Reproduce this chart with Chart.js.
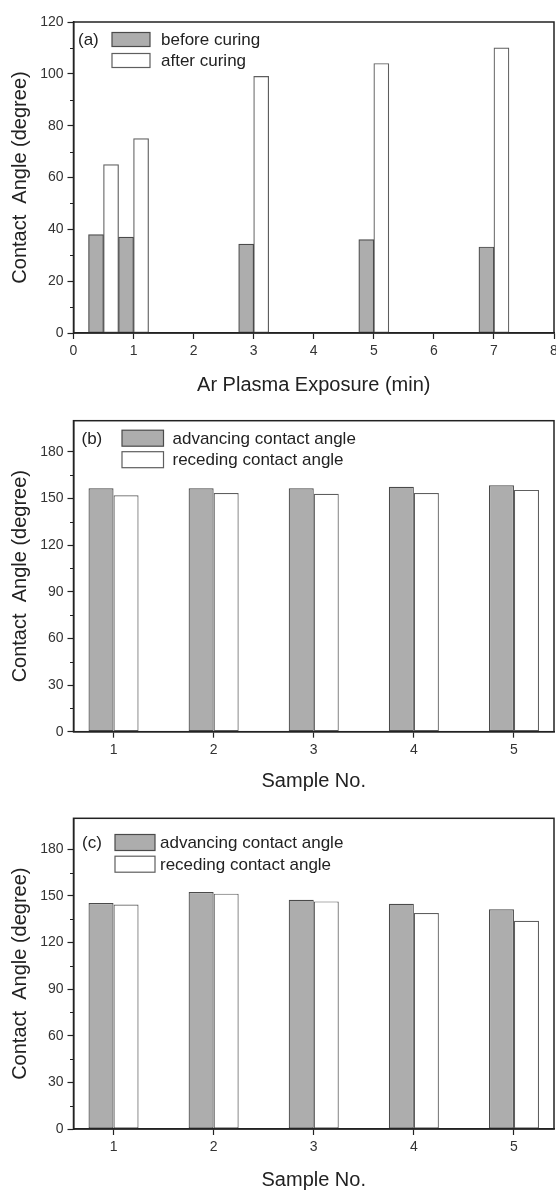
<!DOCTYPE html>
<html>
<head>
<meta charset="utf-8">
<script src="https://cdn.jsdelivr.net/npm/chart.js@4/dist/chart.umd.min.js"></script>
<style>
  html, body { margin: 0; padding: 0; background: #fff; overflow: hidden; }
  canvas { position: absolute; left: 0; }
  #chartA { top: 0; }
  #chartB { top: 400px; }
  #chartC { top: 792px; }
</style>
</head>
<body>
<canvas id="chartA" width="556" height="400"></canvas>
<canvas id="chartB" width="556" height="400"></canvas>
<canvas id="chartC" width="556" height="400"></canvas>
<script>
// panel (a)
const exposureMin = [0.5, 1, 3, 5, 7];
const beforeCuring = [38, 37, 34.3, 36, 33.2];
const afterCuring = [65, 75, 99, 104, 110];
const seriesA = ['before curing', 'after curing'];
const xTicksA = [0, 1, 2, 3, 4, 5, 6, 7, 8];
const yTicksA = [0, 20, 40, 60, 80, 100, 120];

// panels (b) and (c)
const sampleNo = [1, 2, 3, 4, 5];
const advancingB = [156.5, 156.5, 156.5, 157.5, 158.5];
const recedingB = [152, 153.5, 153, 153.5, 155.5];
const advancingC = [145.5, 152.5, 147.5, 145, 141.5];
const recedingC = [144.5, 151.5, 146.5, 139, 134];
const seriesBC = ['advancing contact angle', 'receding contact angle'];
const yTicksBC = [0, 30, 60, 90, 120, 150, 180];

const FONT = "'Liberation Sans', Arial, sans-serif";
const INK = '#222';
const GRAY = '#adadad';

Chart.defaults.font.family = FONT;
Chart.defaults.color = INK;

function pairs(xs, ys) {
    return xs.map((x, i) => ({ x: x, y: ys[i] }));
}

// box round the plot, short minor ticks, and the legend inside the plot
const panelDecor = {
    id: 'panelDecor',
    afterDraw(chart, args, opts) {
        const { ctx, chartArea: a } = chart;
        const y = chart.scales.y;
        ctx.save();

        ctx.strokeStyle = INK;
        ctx.lineWidth = 1;
        y.ticks.forEach(t => {
            if (opts.major.includes(t.value) || t.value > y.max - 0.001) return;
            const py = Math.round(y.getPixelForValue(t.value)) + 0.5;
            ctx.beginPath();
            ctx.moveTo(a.left - 3.5, py);
            ctx.lineTo(a.left, py);
            ctx.stroke();
        });

        ctx.lineWidth = 1.5;
        ctx.strokeRect(a.left, a.top, a.right - a.left, a.bottom - a.top);

        const lg = opts.legend;
        ctx.font = '17px ' + FONT;
        ctx.textBaseline = 'middle';
        ctx.textAlign = 'left';
        ctx.fillStyle = INK;
        ctx.fillText(lg.tag, a.left + lg.tagX, a.top + lg.tagY);

        chart.data.datasets.forEach((ds, i) => {
            const cy = a.top + lg.rowY + i * lg.rowGap;
            const bx = a.left + lg.boxX;
            ctx.fillStyle = ds.backgroundColor;
            ctx.fillRect(bx, cy - lg.boxH / 2, lg.boxW, lg.boxH);
            ctx.strokeStyle = ds.borderColor;
            ctx.lineWidth = 1.2;
            ctx.strokeRect(bx, cy - lg.boxH / 2, lg.boxW, lg.boxH);
            ctx.fillStyle = INK;
            ctx.fillText(ds.label, a.left + lg.textX, cy + 1);
        });

        ctx.restore();
    }
};

function makePanel(id, cfg) {
    return new Chart(document.getElementById(id), {
        type: 'bar',
        data: {
            datasets: [{
                label: cfg.labels[0],
                data: cfg.first,
                backgroundColor: GRAY,
                borderColor: '#4a4a4a',
                borderWidth: 1.2,
                borderSkipped: false
            }, {
                label: cfg.labels[1],
                data: cfg.second,
                backgroundColor: '#ffffff',
                borderColor: '#5e5e5e',
                borderWidth: 1.2,
                borderSkipped: false
            }]
        },
        options: {
            responsive: false,
            animation: false,
            events: [],
            layout: { padding: { top: cfg.padTop, right: 2, left: 0, bottom: 0 } },
            datasets: {
                bar: {
                    barPercentage: 1,
                    categoryPercentage: cfg.catPct,
                    grouped: true
                }
            },
            plugins: {
                legend: { display: false },
                tooltip: { enabled: false },
                panelDecor: { major: cfg.yMajor, legend: cfg.legend }
            },
            scales: {
                x: {
                    type: 'linear',
                    offset: false,
                    min: cfg.xMin,
                    max: cfg.xMax,
                    afterFit: s => {
                        s.height = cfg.xAxisH;
                        s.paddingRight = 0;
                        s.paddingLeft = 0;
                    },
                    ticks: {
                        stepSize: 1,
                        includeBounds: false,
                        padding: 4,
                        font: { size: 14 },
                        color: '#333',
                        maxRotation: 0,
                        autoSkip: false,
                        callback: v => cfg.xTicks.includes(v) ? String(v) : ''
                    },
                    grid: {
                        offset: false,
                        drawOnChartArea: false,
                        tickLength: 6,
                        tickWidth: 1.2,
                        tickColor: INK
                    },
                    border: { color: INK, width: 1.5 },
                    title: {
                        display: true,
                        text: cfg.xTitle,
                        font: { size: 20 },
                        color: INK,
                        padding: { top: 0, bottom: cfg.xTitlePad }
                    }
                },
                y: {
                    min: 0,
                    max: cfg.yMax,
                    afterFit: s => { s.width = 73.5; },
                    ticks: {
                        stepSize: cfg.yStep,
                        padding: 4,
                        font: { size: 14 },
                        color: '#333',
                        autoSkip: false,
                        callback: v => cfg.yMajor.includes(v) ? String(v) : ''
                    },
                    grid: {
                        drawOnChartArea: false,
                        tickLength: 6,
                        tickWidth: 1.2,
                        tickColor: c => (c.tick && cfg.yMajor.includes(c.tick.value)) ? INK : 'rgba(0,0,0,0)'
                    },
                    border: { color: INK, width: 1.5 },
                    title: {
                        display: true,
                        text: 'Contact  Angle (degree)',
                        font: { size: 20 },
                        color: INK,
                        padding: { top: 8, bottom: 0 }
                    }
                }
            }
        },
        plugins: [panelDecor]
    });
}

makePanel('chartA', {
    labels: seriesA,
    first: pairs(exposureMin, beforeCuring),
    second: pairs(exposureMin, afterCuring),
    catPct: 1,
    padTop: 22,
    xMin: 0, xMax: 8, xTicks: xTicksA, xAxisH: 67, xTitlePad: 3,
    xTitle: 'Ar Plasma Exposure (min)',
    yMax: 120, yStep: 10, yMajor: yTicksA,
    legend: { tag: '(a)', tagX: 4.5, tagY: 18, boxX: 38.5, boxW: 38, boxH: 14, rowY: 17.5, rowGap: 21, textX: 87.5 }
});

makePanel('chartB', {
    labels: seriesBC,
    first: pairs(sampleNo, advancingB),
    second: pairs(sampleNo, recedingB),
    catPct: 0.5,
    padTop: 20.7,
    xMin: 0.6, xMax: 5.4, xTicks: sampleNo, xAxisH: 68.3, xTitlePad: 7,
    xTitle: 'Sample No.',
    yMax: 200, yStep: 15, yMajor: yTicksBC,
    legend: { tag: '(b)', tagX: 8, tagY: 19, boxX: 48.5, boxW: 41.5, boxH: 16, rowY: 17.5, rowGap: 21.5, textX: 99 }
});

makePanel('chartC', {
    labels: seriesBC,
    first: pairs(sampleNo, advancingC),
    second: pairs(sampleNo, recedingC),
    catPct: 0.5,
    padTop: 26.3,
    xMin: 0.6, xMax: 5.4, xTicks: sampleNo, xAxisH: 63, xTitlePad: 0,
    xTitle: 'Sample No.',
    yMax: 200, yStep: 15, yMajor: yTicksBC,
    legend: { tag: '(c)', tagX: 8.5, tagY: 24.7, boxX: 41.5, boxW: 40, boxH: 16, rowY: 24.2, rowGap: 21.7, textX: 86.5 }
});
</script>
</body>
</html>
